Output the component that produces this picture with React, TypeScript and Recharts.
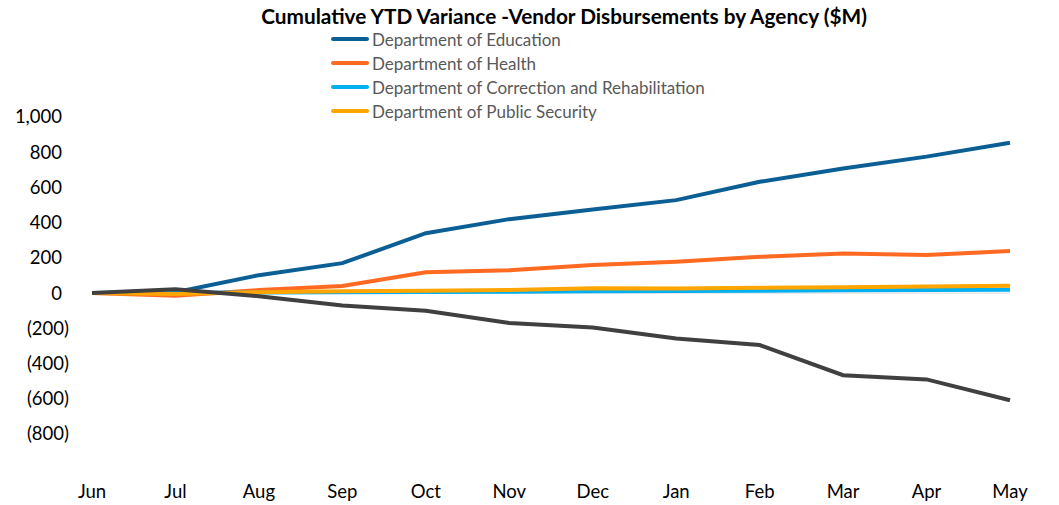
import { LineChart, Line, XAxis, YAxis, ReferenceLine } from "recharts";

const months = ["Jun", "Jul", "Aug", "Sep", "Oct", "Nov", "Dec", "Jan", "Feb", "Mar", "Apr", "May"];

const education = [0, 5, 102, 170, 340, 420, 475, 528, 632, 708, 775, 854];
const health = [0, -15, 17, 40, 118, 130, 160, 178, 206, 225, 216, 239];
const correction = [0, 2, 3, 5, 6, 8, 11, 12, 14, 16, 17, 19];
const publicSecurity = [0, -5, 5, 10, 13, 17, 27, 26, 31, 33, 38, 42];
const other = [0, 22, -18, -70, -100, -170, -195, -258, -295, -466, -490, -608];

const yTicks = [-800, -600, -400, -200, 0, 200, 400, 600, 800, 1000];

const series = [
  { key: "education", name: "Department of Education", color: "#0B5F95" },
  { key: "health", name: "Department of Health", color: "#FF6A23" },
  { key: "correction", name: "Department of Correction and Rehabilitation", color: "#00B0F0" },
  { key: "publicSecurity", name: "Department of Public Security", color: "#FFA500" },
];

const chartData = months.map((month, i) => ({
  month,
  education: education[i],
  health: health[i],
  correction: correction[i],
  publicSecurity: publicSecurity[i],
  other: other[i],
}));

const font = "Lato, 'Open Sans', sans-serif";

const formatY = (v: number) => {
  const s = Math.abs(v).toLocaleString("en-US");
  return v < 0 ? `(${s})` : s;
};

const YTick = ({ x, y, payload }: any) => (
  <text
    x={payload.value < 0 ? x - 15 : x - 22}
    y={y}
    dy="0.35em"
    textAnchor="end"
    fill="#000"
    fontSize={18.5}
    fontFamily={font}
  >
    {formatY(payload.value)}
  </text>
);

const XTick = ({ x, y, payload }: any) => (
  <text x={x} y={y + 50} dy="0.35em" textAnchor="middle" fill="#000" fontSize={18.5} fontFamily={font}>
    {payload.value}
  </text>
);

export default function App() {
  return (
    <div style={{ position: "absolute", left: 0, top: 0, width: 1059, height: 505, background: "#fff" }}>
      <div
        style={{
          position: "absolute",
          top: 3,
          left: 0,
          width: 1128,
          textAlign: "center",
          fontFamily: font,
          fontWeight: 700,
          fontSize: 20.8,
          color: "#000",
        }}
      >
        Cumulative YTD Variance -Vendor Disbursements by Agency ($M)
      </div>
      <div style={{ position: "absolute", left: 331, top: 27, fontFamily: font, fontSize: 17, color: "#595959" }}>
        {series.map((s) => (
          <div key={s.key} style={{ display: "flex", alignItems: "center", height: 24 }}>
            <span style={{ width: 38, height: 4, background: s.color, borderRadius: 2, marginRight: 3 }} />
            <span>{s.name}</span>
          </div>
        ))}
      </div>
      <LineChart width={1059} height={505} data={chartData} margin={{ top: 117, right: 49, left: 0, bottom: 41 }}>
        <XAxis dataKey="month" axisLine={false} tickLine={false} tick={<XTick />} height={30} interval={0} />
        <YAxis
          domain={[-800, 1000]}
          ticks={yTicks}
          axisLine={false}
          tickLine={false}
          width={92}
          tick={<YTick />}
          interval={0}
        />
        <ReferenceLine y={0} stroke="#D9D9D9" strokeWidth={1} />
        {series.map((s) => (
          <Line
            key={s.key}
            type="linear"
            dataKey={s.key}
            name={s.name}
            stroke={s.color}
            strokeWidth={4}
            dot={false}
            isAnimationActive={false}
          />
        ))}
        <Line
          type="linear"
          dataKey="other"
          name="Other"
          stroke="#404040"
          strokeWidth={4}
          dot={false}
          legendType="none"
          isAnimationActive={false}
        />
      </LineChart>
    </div>
  );
}
